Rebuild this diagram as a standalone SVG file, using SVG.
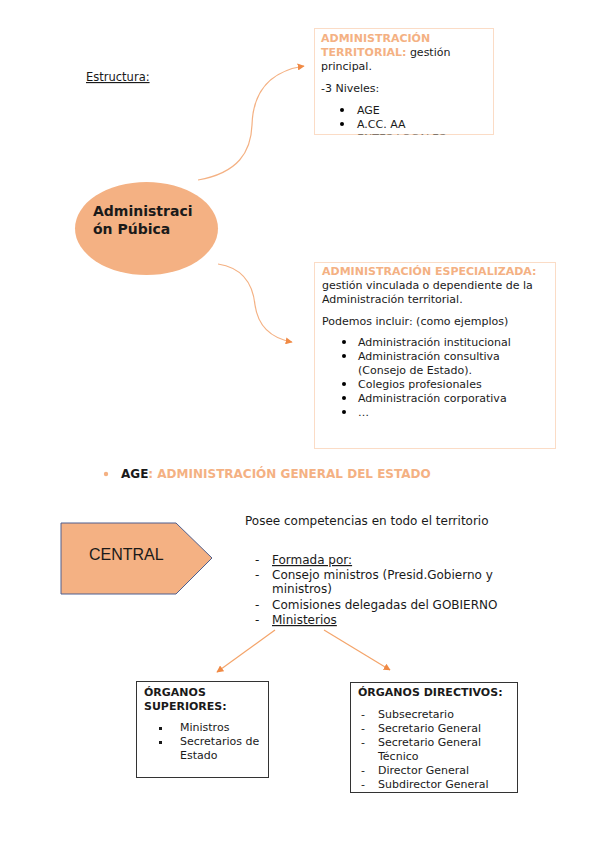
<svg xmlns="http://www.w3.org/2000/svg" width="599" height="848" viewBox="0 0 599 848">
<style>
text{font-family:"DejaVu Sans","Noto Sans",sans-serif;font-size:11px;fill:#1a1a1a}
.or{fill:#f4b183;font-weight:bold}
.b{font-weight:bold}
.m{font-size:12px}
.conn{fill:none;stroke:#f4b183;stroke-width:1.2}
.conn2{fill:none;stroke:#f4a46a;stroke-width:1.2}
</style>
<defs>
<marker id="ah" viewBox="0 0 10 10" refX="9" refY="5" markerWidth="7" markerHeight="7" orient="auto" markerUnits="userSpaceOnUse"><path d="M0,0 L10,5 L0,10 z" fill="#f08a45"/></marker>
<clipPath id="clipTop"><rect x="314" y="28" width="180" height="106.5"/></clipPath>
</defs>
<rect width="599" height="848" fill="#fff"/>
<g id="title">
<text x="86" y="81" style="text-decoration:underline;font-size:11.5px">Estructura:</text>
</g>
<g id="connectors">
<path class="conn" d="M198,180 C238,173 251,152 252,125 C253,90 272,71 304,66" marker-end="url(#ah)"/>
<path class="conn" d="M218,264 C244,268 253,285 255,305 C258,326 270,338 292,342" marker-end="url(#ah)"/>
<path class="conn2" d="M275,630 L217,672" marker-end="url(#ah)"/>
<path class="conn2" d="M324,630 L390,670" marker-end="url(#ah)"/>
</g>
<g id="admin-publica">
<ellipse cx="146.5" cy="228.5" rx="71.5" ry="46.5" fill="#f4b183"/>
<text x="93" y="216" class="b" style="font-size:14px">Administraci</text>
<text x="93" y="234" class="b" style="font-size:14px">ón Púbica</text>
</g>
<g id="territorial">
<rect x="314.5" y="28.5" width="179" height="106" fill="#fff" stroke="#fbdcc6"/>
<g clip-path="url(#clipTop)">
<text x="321" y="42"><tspan class="or">ADMINISTRACIÓN</tspan></text>
<text x="321" y="56"><tspan class="or">TERRITORIAL:</tspan> gestión</text>
<text x="321" y="70">principal.</text>
<text x="321" y="92">-3 Niveles:</text>
<circle cx="342" cy="110" r="2"/>
<text x="357" y="114">AGE</text>
<circle cx="342" cy="124" r="2"/>
<text x="357" y="128">A.CC. AA</text>
<circle cx="342" cy="137.5" r="2"/>
<text x="357" y="141.5">ENTES LOCALES</text>
</g>
</g>
<g id="especializada">
<rect x="314.5" y="262.5" width="241" height="186" fill="#fff" stroke="#fbdcc6"/>
<text x="322" y="275" class="or">ADMINISTRACIÓN ESPECIALIZADA:</text>
<text x="322" y="289">gestión vinculada o dependiente de la</text>
<text x="322" y="303">Administración territorial.</text>
<text x="322" y="325">Podemos incluir: (como ejemplos)</text>
<circle cx="344" cy="342" r="2"/>
<text x="358" y="346">Administración institucional</text>
<circle cx="344" cy="356" r="2"/>
<text x="358" y="360">Administración consultiva</text>
<text x="358" y="374">(Consejo de Estado).</text>
<circle cx="344" cy="384" r="2"/>
<text x="358" y="388">Colegios profesionales</text>
<circle cx="344" cy="398" r="2"/>
<text x="358" y="402">Administración corporativa</text>
<circle cx="344" cy="412" r="2"/>
<text x="358" y="416">…</text>
</g>
<g id="age-heading">
<circle cx="106" cy="474" r="2.2" fill="#f4b183"/>
<text x="121" y="478" class="b m">AGE<tspan class="or">: ADMINISTRACIÓN GENERAL DEL ESTADO</tspan></text>
</g>
<g id="central">
<path d="M61,523 L176,523 L212,558 L176,594 L61,594 Z" fill="#f4b183" stroke="#4f5f8f" stroke-width="1"/>
<text x="89" y="560" style="font-family:'Liberation Sans',Arial,sans-serif;font-size:16px">CENTRAL</text>
</g>
<g id="central-text">
<text x="245" y="525" class="m">Posee competencias en todo el territorio</text>
<text x="255" y="564" class="m">-</text><text x="272" y="564" class="m" style="text-decoration:underline">Formada por:</text>
<text x="255" y="579" class="m">-</text><text x="272" y="579" class="m">Consejo ministros (Presid.Gobierno y</text>
<text x="272" y="593" class="m">ministros)</text>
<text x="255" y="609" class="m">-</text><text x="272" y="609" class="m">Comisiones delegadas del GOBIERNO</text>
<text x="255" y="624" class="m">-</text><text x="272" y="624" class="m" style="text-decoration:underline">Ministerios</text>
</g>
<g id="organos-superiores">
<rect x="136.5" y="681.5" width="132" height="96" fill="#fff" stroke="#333"/>
<text x="144" y="696" class="b">ÓRGANOS</text>
<text x="144" y="710" class="b">SUPERIORES:</text>
<rect x="159" y="727" width="3" height="3" fill="#1a1a1a"/>
<text x="180" y="731">Ministros</text>
<rect x="159" y="741" width="3" height="3" fill="#1a1a1a"/>
<text x="180" y="745">Secretarios de</text>
<text x="180" y="759">Estado</text>
</g>
<g id="organos-directivos">
<rect x="350.5" y="682.5" width="167" height="110" fill="#fff" stroke="#333"/>
<text x="358" y="696" class="b">ÓRGANOS DIRECTIVOS:</text>
<text x="361" y="718">-</text><text x="378" y="718">Subsecretario</text>
<text x="361" y="732">-</text><text x="378" y="732">Secretario General</text>
<text x="361" y="746">-</text><text x="378" y="746">Secretario General</text>
<text x="378" y="760">Técnico</text>
<text x="361" y="774">-</text><text x="378" y="774">Director General</text>
<text x="361" y="788">-</text><text x="378" y="788">Subdirector General</text>
</g>
</svg>
